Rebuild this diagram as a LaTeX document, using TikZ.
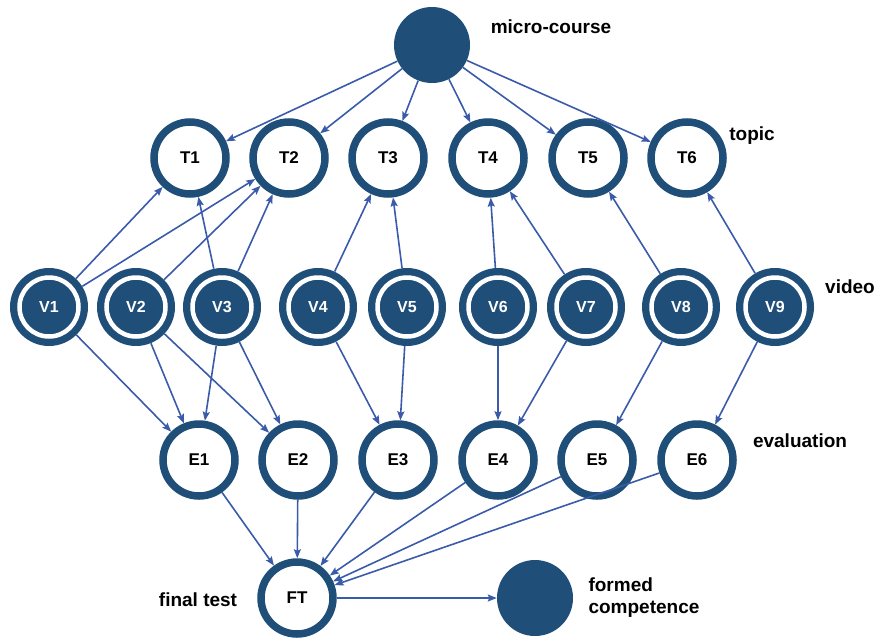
\documentclass[tikz,border=0pt]{standalone}
\usepackage{fontspec}
\setmainfont{Liberation Sans}
\usetikzlibrary{arrows.meta}
\definecolor{navy}{HTML}{1F4E79}
\definecolor{linkblue}{HTML}{3A5BA9}
\begin{document}
\begin{tikzpicture}[x=1pt, y=-1pt,
        ring/.style={circle, draw=navy, line width=7.5pt, fill=white, minimum size=72pt, inner sep=0pt,
            font=\fontsize{17}{20}\selectfont\bfseries},
        vid/.style={circle, fill=navy, minimum size=78pt, inner sep=0pt, text=white,
            font=\fontsize{16}{19}\selectfont\bfseries,
            path picture={\draw[white, line width=4.5pt] (path picture bounding box.center) circle (29.5pt);}},
        hub/.style={circle, fill=navy, minimum size=76pt, inner sep=0pt},
        lbl/.style={font=\fontsize{19}{22}\selectfont\bfseries},
        link/.style={-{Stealth[length=9pt, width=7pt, inset=1.5pt]}, linkblue, line width=1.6pt}]
        \useasboundingbox (0,0) rectangle (877,637);

        % Top: micro-course
        \node[hub] (mc) at (432,45) {};
        \node[lbl] (mclbl) at (551,27) {micro-course};

        % Topics
        \node[ring] (T1) at (190,158) {T1};
        \node[ring] (T2) at (289,158) {T2};
        \node[ring] (T3) at (388,158) {T3};
        \node[ring] (T4) at (488,158) {T4};
        \node[ring] (T5) at (588,158) {T5};
        \node[ring] (T6) at (687,158) {T6};
        \node[lbl] (topiclbl) at (752,136) {topic};

        % Videos
        \node[vid] (V1) at (49,307) {V1};
        \node[vid] (V2) at (136,307) {V2};
        \node[vid] (V3) at (222,307) {V3};
        \node[vid] (V4) at (318,307) {V4};
        \node[vid] (V5) at (407,307) {V5};
        \node[vid] (V6) at (498,307) {V6};
        \node[vid] (V7) at (586,307) {V7};
        \node[vid] (V8) at (681,307) {V8};
        \node[vid] (V9) at (775,307) {V9};
        \node[lbl] (videolbl) at (850,287) {video};

        % Evaluations
        \node[ring] (E1) at (199,460) {E1};
        \node[ring] (E2) at (298,460) {E2};
        \node[ring] (E3) at (398,460) {E3};
        \node[ring] (E4) at (498,460) {E4};
        \node[ring] (E5) at (597,460) {E5};
        \node[ring] (E6) at (697,460) {E6};
        \node[lbl] (evallbl) at (800,441) {evaluation};

        % Bottom: final test and competence
        \node[ring] (FT) at (297,598) {FT};
        \node[lbl] (ftlbl) at (198,600) {final test};
        \node[hub] (fc) at (535,598) {};
        \node[lbl, align=left, anchor=west] (fclbl) at (585,598) {formed\\competence};

        % micro-course to topics
        \draw[link] (mc) -- (T1);
        \draw[link] (mc) -- (T2);
        \draw[link] (mc) -- (T3);
        \draw[link] (mc) -- (T4);
        \draw[link] (mc) -- (T5);
        \draw[link] (mc) -- (T6);

        % videos to topics
        \draw[link] (V1) -- (T1);
        \draw[link] (V1) -- (T2);
        \draw[link] (V2) -- (T2);
        \draw[link] (V3) -- (T1);
        \draw[link] (V3) -- (T2);
        \draw[link] (V4) -- (T3);
        \draw[link] (V5) -- (T3);
        \draw[link] (V6) -- (T4);
        \draw[link] (V7) -- (T4);
        \draw[link] (V8) -- (T5);
        \draw[link] (V9) -- (T6);

        % videos to evaluations
        \draw[link] (V1) -- (E1);
        \draw[link] (V2) -- (E1);
        \draw[link] (V2) -- (E2);
        \draw[link] (V3) -- (E1);
        \draw[link] (V3) -- (E2);
        \draw[link] (V4) -- (E3);
        \draw[link] (V5) -- (E3);
        \draw[link] (V6) -- (E4);
        \draw[link] (V7) -- (E4);
        \draw[link] (V8) -- (E5);
        \draw[link] (V9) -- (E6);

        % evaluations to final test
        \draw[link] (E1) -- (FT);
        \draw[link] (E2) -- (FT);
        \draw[link] (E3) -- (FT);
        \draw[link] (E4) -- (FT);
        \draw[link] (E5) -- (FT);
        \draw[link] (E6) -- (FT);
        \draw[link] (FT) -- (fc);
    \end{tikzpicture}
\end{document}
